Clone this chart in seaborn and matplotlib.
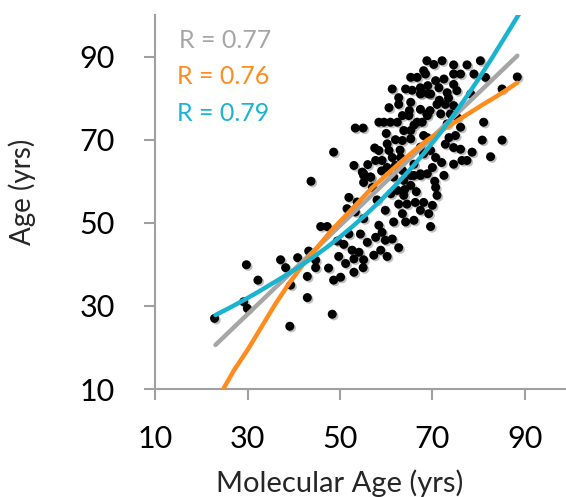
import matplotlib
matplotlib.use('Agg')
import matplotlib.pyplot as plt
import matplotlib.patheffects as pe
import seaborn as sns
import pandas as pd

# scatter points (molecular age, age)
mol_age = [43.7, 22.8, 29.7, 32.2, 29.9, 29.1, 39.1, 42.9, 48.3, 37.1,
           38.2, 39.3, 40.8, 42.9, 44.7, 44.7, 43.2, 47.5, 48.6, 50.1,
           53.0, 55.0, 49.7, 51.2, 53.0, 54.1, 55.1, 57.3, 58.8, 60.2,
           62.7, 52.6, 50.8, 49.4, 45.8, 47.2, 51.9, 54.4, 55.9, 57.7,
           59.1, 58.4, 59.8, 61.3, 55.1, 53.3, 51.5, 51.9, 53.7, 59.8,
           61.6, 63.5, 64.2, 66.0, 62.7, 64.5, 66.3, 67.4, 69.2, 69.6,
           68.1, 70.0, 62.4, 63.8, 65.3, 63.8, 67.4, 66.0, 70.7, 71.0,
           55.1, 56.6, 55.1,
           48.6, 53.0, 53.3, 55.0, 55.1, 56.6, 58.4, 59.5, 60.9, 62.4,
           60.2, 60.6, 61.3, 59.1, 60.2, 62.0, 63.1, 63.5, 65.3, 63.8,
           65.3, 63.5, 64.9, 66.7, 60.6, 62.7, 62.7, 65.3, 61.3, 64.2,
           65.6, 67.4, 67.4, 69.2, 65.3, 66.7, 68.1, 68.8, 67.4, 68.8,
           58.4, 57.7, 67.4, 68.1, 61.6, 63.5, 65.3, 66.0, 67.4, 54.8,
           70.3, 72.1, 74.6, 77.5, 80.4, 68.5, 70.7, 72.5, 74.6, 76.1,
           79.0, 81.5, 88.4, 71.4, 74.6, 73.2, 75.3, 67.8, 69.6, 78.3,
           85.1, 71.0, 72.8, 74.6, 71.8, 73.9, 75.4, 68.9, 73.2, 76.1,
           81.1, 68.9, 73.6, 72.8, 74.6, 76.1, 80.8, 85.1, 78.6, 77.5,
           76.4, 74.6, 82.6, 69.6, 70.7, 68.1, 70.0, 68.9, 72.5, 67.8,
           57.0, 58.0, 61.0, 64.0, 66.5, 70.5, 72.0, 75.0, 71.5, 69.0,
           65.0, 62.0, 60.0, 57.5, 56.0, 59.0, 63.0, 66.0, 69.5, 73.5]
age = [60.0, 27.0, 39.9, 36.2, 29.4, 31.0, 25.1, 32.0, 28.0, 41.1,
       39.2, 35.0, 41.6, 37.1, 41.0, 39.2, 43.2, 39.1, 36.2, 36.9,
       38.1, 39.2, 41.9, 40.2, 41.3, 42.9, 41.1, 42.2, 43.4, 41.9,
       44.0, 43.4, 44.8, 45.6, 49.1, 49.1, 47.3, 47.3, 45.3, 46.5,
       47.7, 49.4, 45.8, 46.1, 51.0, 52.6, 53.4, 56.1, 55.0, 53.0,
       50.2, 52.2, 50.2, 50.6, 54.5, 54.5, 54.9, 53.0, 52.2, 49.1,
       54.9, 54.2, 57.8, 56.6, 59.0, 60.2, 61.4, 61.4, 58.5, 56.6,
       61.4, 61.0, 59.7,
       67.0, 63.8, 72.8, 72.8, 61.8, 61.0, 67.4, 74.2, 74.2, 74.2,
       69.0, 67.4, 65.7, 65.0, 63.3, 63.8, 65.7, 69.8, 70.2, 72.2,
       72.2, 75.8, 75.8, 74.2, 77.7, 78.5, 80.1, 79.0, 82.2, 82.2,
       81.9, 81.0, 82.5, 81.0, 85.0, 85.0, 86.6, 89.0, 77.3, 76.2,
       74.2, 65.0, 68.2, 71.0, 61.0, 62.6, 61.4, 64.1, 61.8, 62.2,
       88.1, 89.0, 88.0, 88.0, 89.0, 85.8, 84.2, 84.6, 85.8, 85.8,
       85.8, 85.0, 85.1, 82.5, 83.3, 81.3, 81.8, 81.3, 81.0, 81.0,
       82.2, 78.5, 78.5, 78.2, 76.2, 76.2, 75.3, 75.8, 73.8, 73.0,
       74.2, 70.5, 70.5, 68.9, 68.1, 67.7, 69.9, 69.9, 67.0, 65.0,
       65.0, 64.1, 65.9, 67.4, 65.7, 66.6, 63.3, 61.8, 61.4, 74.2,
       58.5, 55.5, 57.0, 58.0, 57.5, 60.0, 64.5, 71.0, 79.5, 83.0,
       77.0, 70.0, 71.5, 68.0, 64.0, 62.5, 67.5, 73.5, 77.0, 80.0]

# fitted curves
lin_x = [23.0, 88.4]
lin_y = [20.6, 90.2]
log_x = [24.8, 27.0, 30.0, 33.0, 36.0, 39.0, 42.0, 45.0, 48.0, 51.0, 54.0, 57.0,
         60.0, 63.0, 66.0, 69.0, 72.0, 75.0, 78.0, 81.0, 84.0, 86.5, 88.4]
log_y = [10.2, 14.5, 19.5, 25.0, 30.5, 35.5, 40.0, 44.0, 48.0, 51.5, 55.0, 58.5,
         61.5, 64.5, 67.3, 70.0, 72.2, 74.3, 76.4, 78.5, 80.5, 82.3, 83.7]
exp_x = [23.0, 26.0, 29.0, 32.0, 35.0, 38.0, 41.0, 44.0, 47.0, 50.0, 53.0, 56.0,
         59.0, 62.0, 65.0, 68.0, 71.0, 74.0, 77.0, 80.0, 83.0, 86.0, 88.8]
exp_y = [27.8, 29.5, 31.3, 33.2, 35.2, 37.2, 39.3, 41.6, 44.0, 46.6, 49.4, 52.4,
         55.6, 59.0, 62.6, 66.5, 70.6, 75.0, 79.7, 84.6, 89.8, 95.2, 100.3]

r_labels = ['R = 0.77', 'R = 0.76', 'R = 0.79']
GRAY = '#a6a6a6'
ORANGE = '#ff8c1c'
CYAN = '#1bb4d0'

sns.set_style('ticks')
plt.rcParams['font.family'] = ['Lato', 'DejaVu Sans']

fig = plt.figure(figsize=(5.66, 4.97), dpi=100)
ax = fig.add_axes([0.2747, 0.2173, 0.7253, 0.7525])

pts = pd.DataFrame({'mol': mol_age, 'age': age})
sns.scatterplot(data=pts, x='mol', y='age', ax=ax, color='black', s=42,
                edgecolor='none', zorder=2)
ax.collections[0].set_path_effects([
    pe.SimplePatchShadow(offset=(1.2, -1.2), shadow_rgbFace='black', alpha=0.25),
    pe.Normal()])

sns.lineplot(x=lin_x, y=lin_y, ax=ax, color=GRAY, lw=3.2, zorder=3)
sns.lineplot(x=log_x, y=log_y, ax=ax, color=ORANGE, lw=3.2, zorder=3, sort=False)
sns.lineplot(x=exp_x, y=exp_y, ax=ax, color=CYAN, lw=3.2, zorder=4, sort=False)

ax.text(15.0, 93.8, r_labels[0], color=GRAY, fontsize=18, va='center', ha='left')
ax.text(14.6, 85.1, r_labels[1], color=ORANGE, fontsize=18, va='center', ha='left')
ax.text(14.6, 76.2, r_labels[2], color=CYAN, fontsize=18, va='center', ha='left')

ax.set_xlim(10, 98.95)
ax.set_ylim(10, 100)
ax.set_xticks([10, 30, 50, 70, 90])
ax.set_yticks([10, 30, 50, 70, 90])
sns.despine(ax=ax)
for s in ['left', 'bottom']:
    ax.spines[s].set_color('#a0a0a0')
    ax.spines[s].set_linewidth(1.5)
ax.tick_params(axis='both', colors='#a0a0a0', labelcolor='black',
               labelsize=22, length=8, width=1.5)
ax.tick_params(axis='x', pad=18)
ax.tick_params(axis='y', pad=21)

ax.set_xlabel('Molecular Age (yrs)', fontsize=21)
ax.set_ylabel('Age (yrs)', fontsize=20)
ax.xaxis.set_label_coords(0.449, -0.214)
ax.yaxis.set_label_coords(-0.29, 0.527)

fig.savefig('out.png', dpi=100)
